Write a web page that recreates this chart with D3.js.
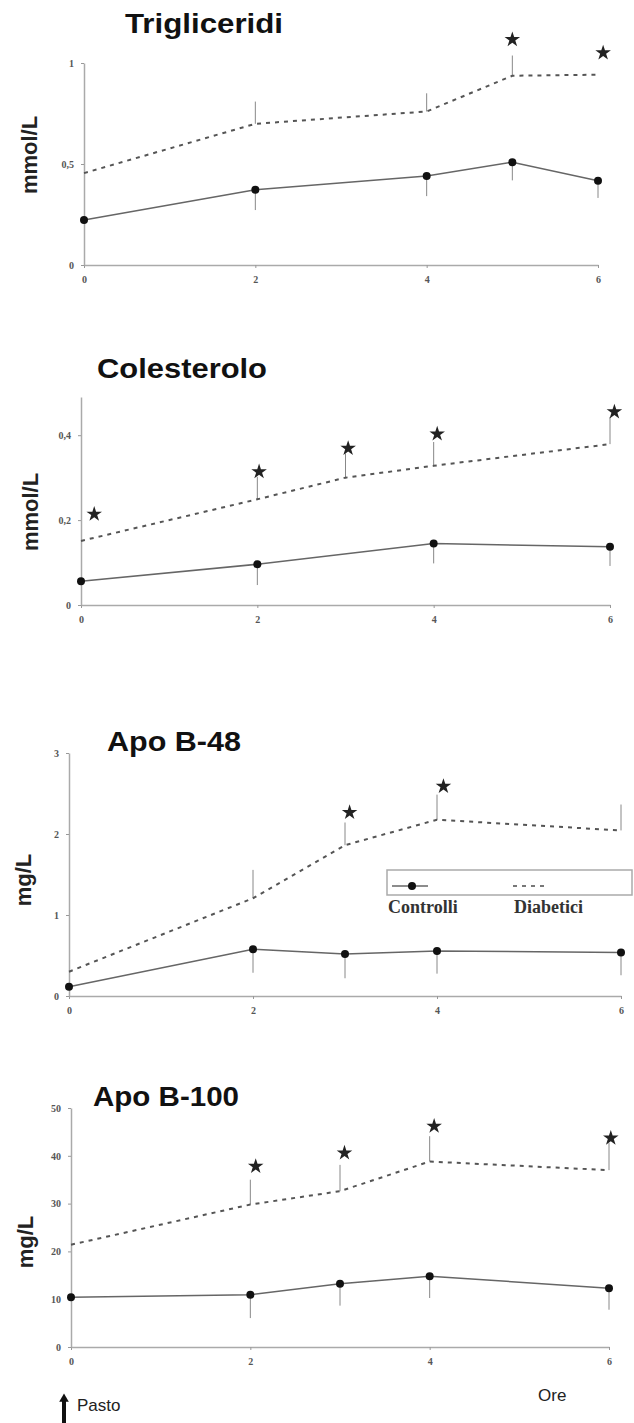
<!DOCTYPE html>
<html>
<head>
<meta charset="utf-8">
<script src="https://cdn.jsdelivr.net/npm/d3@7"></script>
<style>
  body { margin: 0; background: #fff; }
  svg { display: block; }
  .title { font-family: "Liberation Sans", Arial, sans-serif; font-weight: bold; fill: #111; }
  .unit { font-family: "Liberation Sans", Arial, sans-serif; font-weight: bold; fill: #222; }
  .tick text { font-family: "Liberation Serif", serif; font-weight: bold; font-size: 10px; fill: #555; }
  .legend-text { font-family: "Liberation Serif", serif; font-weight: bold; font-size: 18px; fill: #333; }
  .note { font-family: "Liberation Sans", Arial, sans-serif; font-size: 17px; fill: #222; }
</style>
</head>
<body>
<div id="chart"></div>
<script>
// Trigliceridi (mmol/L)
const trigTimes       = [0, 2, 4, 5, 6];
const trigControl     = [0.223, 0.372, 0.441, 0.509, 0.417];
const trigControlSd   = [0, 0.10, 0.10, 0.09, 0.085];
const trigDiabetic    = [0.455, 0.699, 0.760, 0.937, 0.942];
const trigDiabeticSd  = [0, 0.11, 0.09, 0.10, 0];
const trigStarT       = [5, 6.06];
const trigStarV       = [1.116, 1.05];
const trigTicks       = [0, 0.5, 1];
const trigTickLabels  = ["0", "0,5", "1"];

// Colesterolo (mmol/L)
const colTimes        = [0, 2, 3, 4, 6];
const colControl      = [0.056, 0.096, null, 0.145, 0.137];
const colControlSd    = [0, 0.049, 0, 0.047, 0.045];
const colDiabetic     = [0.151, 0.249, 0.300, 0.328, 0.379];
const colDiabeticSd   = [0, 0.053, 0.057, 0.056, 0.064];
const colStarT        = [0.15, 2.02, 3.03, 4.04, 6.05];
const colStarV        = [0.214, 0.314, 0.369, 0.403, 0.455];
const colTicks        = [0, 0.2, 0.4];
const colTickLabels   = ["0", "0,2", "0,4"];

// Apo B-48 (mg/L)
const b48Times        = [0, 2, 3, 4, 6];
const b48Control      = [0.115, 0.577, 0.519, 0.556, 0.536];
const b48ControlSd    = [0, 0.29, 0.30, 0.28, 0.28];
const b48Diabetic     = [0.30, 1.207, 1.862, 2.176, 2.044];
const b48DiabeticSd   = [0, 0.35, 0.28, 0.31, 0.32];
const b48StarT        = [3.05, 4.07];
const b48StarV        = [2.266, 2.588];
const b48Ticks        = [0, 1, 2, 3];
const b48TickLabels   = ["0", "1", "2", "3"];

// Apo B-100 (mg/L)
const b100Times       = [0, 2, 3, 4, 6];
const b100Control     = [10.4, 10.95, 13.25, 14.8, 12.3];
const b100ControlSd   = [0, 4.9, 4.6, 4.55, 4.5];
const b100Diabetic    = [21.4, 29.8, 32.6, 38.8, 37.0];
const b100DiabeticSd  = [0, 5.2, 5.5, 5.3, 5.7];
const b100StarT       = [2.06, 3.05, 4.05, 6.02];
const b100StarV       = [37.8, 40.6, 46.2, 43.7];
const b100Ticks       = [0, 10, 20, 30, 40, 50];
const b100TickLabels  = ["0", "10", "20", "30", "40", "50"];

const hourTicks   = [0, 2, 4, 6];
const hourLabels  = ["0", "2", "4", "6"];
const seriesNames = ["Controlli", "Diabetici"];

const width = 634, height = 1423;

const svg = d3.select("#chart").append("svg")
  .attr("width", width).attr("height", height);

function drawPanel(p) {
  const g = svg.append("g");
  const x = d3.scaleLinear([0, 6], p.xRange);
  const y = d3.scaleLinear(p.yDomain, p.yRange);

  // axes
  const ax = g.append("g")
    .attr("transform", `translate(0, ${y(0)})`)
    .call(d3.axisBottom(x).tickValues(hourTicks).tickSize(3).tickSizeOuter(0).tickPadding(8)
      .tickFormat((d, i) => hourLabels[i]));
  const ay = g.append("g")
    .attr("transform", `translate(${x(0)}, 0)`)
    .call(d3.axisLeft(y).tickValues(p.ticks).tickSize(3).tickSizeOuter(0).tickPadding(7)
      .tickFormat((d, i) => p.tickLabels[i]));
  [ax, ay].forEach(a => {
    a.select(".domain").attr("stroke", "#aaa").attr("stroke-width", 1.5);
    a.selectAll(".tick line").attr("stroke", "#999");
  });

  const rows = p.times.map((t, i) => ({
    t, c: p.control[i], cs: p.controlSd[i], d: p.diabetic[i], ds: p.diabeticSd[i]
  }));

  // error bars
  g.selectAll("line.err-d").data(rows.filter(r => r.ds > 0)).join("line")
    .attr("x1", r => x(r.t)).attr("x2", r => x(r.t))
    .attr("y1", r => y(r.d)).attr("y2", r => y(r.d + r.ds))
    .attr("stroke", "#888").attr("stroke-width", 1);
  g.selectAll("line.err-c").data(rows.filter(r => r.c != null && r.cs > 0)).join("line")
    .attr("x1", r => x(r.t)).attr("x2", r => x(r.t))
    .attr("y1", r => y(r.c)).attr("y2", r => y(r.c - r.cs))
    .attr("stroke", "#888").attr("stroke-width", 1);

  // lines
  g.append("path").datum(rows)
    .attr("d", d3.line().x(r => x(r.t)).y(r => y(r.d)))
    .attr("fill", "none").attr("stroke", "#555").attr("stroke-width", 2)
    .attr("stroke-dasharray", "4,5");
  const cRows = rows.filter(r => r.c != null);
  g.append("path").datum(cRows)
    .attr("d", d3.line().x(r => x(r.t)).y(r => y(r.c)))
    .attr("fill", "none").attr("stroke", "#666").attr("stroke-width", 1.5);
  g.selectAll("circle").data(cRows).join("circle")
    .attr("cx", r => x(r.t)).attr("cy", r => y(r.c)).attr("r", 4)
    .attr("fill", "#111");

  // significance stars
  g.selectAll("path.star").data(p.starT.map((t, i) => [t, p.starV[i]])).join("path")
    .attr("class", "star")
    .attr("d", d3.symbol(d3.symbolStar, 75))
    .attr("transform", d => `translate(${x(d[0])}, ${y(d[1])})`)
    .attr("fill", "#222");

  // titles
  g.append("text").attr("class", "title")
    .attr("x", p.titleX).attr("y", p.titleY)
    .attr("font-size", 28)
    .attr("textLength", p.titleLen).attr("lengthAdjust", "spacingAndGlyphs")
    .text(p.title);
  g.append("text").attr("class", "unit")
    .attr("transform", `translate(${p.unitX}, ${p.unitY}) rotate(-90)`)
    .attr("text-anchor", "middle").attr("dy", "0.35em")
    .attr("font-size", 22)
    .text(p.unit);
  return { x, y };
}

drawPanel({
  title: "Trigliceridi", unit: "mmol/L",
  times: trigTimes, control: trigControl, controlSd: trigControlSd,
  diabetic: trigDiabetic, diabeticSd: trigDiabeticSd,
  starT: trigStarT, starV: trigStarV, ticks: trigTicks, tickLabels: trigTickLabels,
  xRange: [84, 598], yDomain: [0, 1], yRange: [265, 63],
  titleX: 125, titleY: 33, titleLen: 158, unitX: 29, unitY: 155
});

drawPanel({
  title: "Colesterolo", unit: "mmol/L",
  times: colTimes, control: colControl, controlSd: colControlSd,
  diabetic: colDiabetic, diabeticSd: colDiabeticSd,
  starT: colStarT, starV: colStarV, ticks: colTicks, tickLabels: colTickLabels,
  xRange: [81, 610], yDomain: [0, 0.49], yRange: [605, 397],
  titleX: 97, titleY: 378, titleLen: 170, unitX: 30, unitY: 512
});

drawPanel({
  title: "Apo B-48", unit: "mg/L",
  times: b48Times, control: b48Control, controlSd: b48ControlSd,
  diabetic: b48Diabetic, diabeticSd: b48DiabeticSd,
  starT: b48StarT, starV: b48StarV, ticks: b48Ticks, tickLabels: b48TickLabels,
  xRange: [69, 621], yDomain: [0, 3], yRange: [996, 753],
  titleX: 107, titleY: 751, titleLen: 134, unitX: 23, unitY: 880
});

drawPanel({
  title: "Apo B-100", unit: "mg/L",
  times: b100Times, control: b100Control, controlSd: b100ControlSd,
  diabetic: b100Diabetic, diabeticSd: b100DiabeticSd,
  starT: b100StarT, starV: b100StarV, ticks: b100Ticks, tickLabels: b100TickLabels,
  xRange: [71, 609], yDomain: [0, 50], yRange: [1347, 1108],
  titleX: 93, titleY: 1106, titleLen: 146, unitX: 25, unitY: 1242
});

// legend (inside Apo B-48 panel)
const leg = svg.append("g").attr("transform", "translate(387, 870)");
leg.append("rect").attr("width", 245).attr("height", 25)
  .attr("fill", "none").attr("stroke", "#aaa").attr("stroke-width", 1.5);
leg.append("line").attr("x1", 5).attr("x2", 41).attr("y1", 16).attr("y2", 16)
  .attr("stroke", "#666").attr("stroke-width", 1.5);
leg.append("circle").attr("cx", 25).attr("cy", 16).attr("r", 4).attr("fill", "#111");
leg.append("line").attr("x1", 126).attr("x2", 162).attr("y1", 16).attr("y2", 16)
  .attr("stroke", "#777").attr("stroke-width", 2).attr("stroke-dasharray", "4,5");
leg.selectAll("text").data(seriesNames).join("text")
  .attr("class", "legend-text")
  .attr("x", (d, i) => i === 0 ? 1 : 127).attr("y", 43)
  .text(d => d);

// "Pasto" arrow and "Ore"
svg.append("line").attr("x1", 64).attr("x2", 64).attr("y1", 1401).attr("y2", 1423)
  .attr("stroke", "#111").attr("stroke-width", 4);
svg.append("path").attr("d", d3.symbol(d3.symbolTriangle, 40))
  .attr("transform", "translate(64, 1399)").attr("fill", "#111");
svg.append("text").attr("class", "note").attr("x", 77).attr("y", 1411).text("Pasto");
svg.append("text").attr("class", "note").attr("x", 538).attr("y", 1401).text("Ore");
</script>
</body>
</html>
